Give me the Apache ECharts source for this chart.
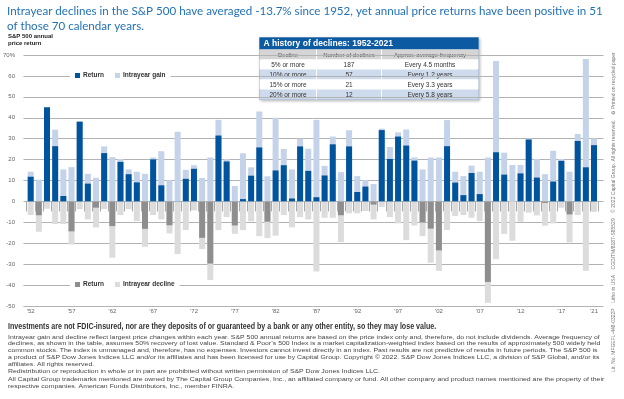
<!DOCTYPE html>
<html>
<head>
<meta charset="utf-8">
<script src="https://cdn.jsdelivr.net/npm/echarts/dist/echarts.min.js"></script>
<style>
html, body { margin: 0; padding: 0; background: #fff; }
#chart { width: 624px; height: 399px; }
</style>
</head>
<body>
<div id="chart"></div>
<script>
// years on the x axis
const years = [
  '1952', '1953', '1954', '1955', '1956', '1957', '1958', '1959', '1960', '1961',
  '1962', '1963', '1964', '1965', '1966', '1967', '1968', '1969', '1970', '1971',
  '1972', '1973', '1974', '1975', '1976', '1977', '1978', '1979', '1980', '1981',
  '1982', '1983', '1984', '1985', '1986', '1987', '1988', '1989', '1990', '1991',
  '1992', '1993', '1994', '1995', '1996', '1997', '1998', '1999', '2000', '2001',
  '2002', '2003', '2004', '2005', '2006', '2007', '2008', '2009', '2010', '2011',
  '2012', '2013', '2014', '2015', '2016', '2017', '2018', '2019', '2020', '2021'
]

// S&P 500 annual price return (%)
const returns = [
  11.8, -6.6, 45.0, 26.4, 2.6, -14.3, 38.1, 8.5, -3.0, 23.1,
  -11.8, 18.9, 13.0, 9.1, -13.1, 20.1, 7.7, -11.4, 0.1, 10.8,
  15.6, -17.4, -29.7, 31.5, 19.1, -11.5, 1.1, 12.3, 25.8, -9.7,
  14.8, 17.3, 1.4, 26.3, 14.6, 2.0, 12.4, 27.3, -6.6, 26.3,
  4.5, 7.1, -1.5, 34.1, 20.3, 31.0, 26.7, 19.5, -10.1, -13.0,
  -23.4, 26.4, 9.0, 3.0, 13.6, 3.5, -38.5, 23.5, 12.8, 0.0,
  13.4, 29.6, 11.4, -0.7, 9.5, 19.4, -6.2, 28.9, 16.3, 26.9
]

// largest intrayear gain (%)
const gains = [
  14.2, 10.4, 45.0, 34.3, 15.3, 16.4, 38.3, 13.2, 11.3, 26.3,
  21.2, 20.3, 15.3, 14.2, 13.2, 21.0, 24.0, 10.2, 33.3, 15.1,
  17.3, 11.2, 21.0, 39.0, 20.2, 7.4, 23.0, 16.3, 43.0, 12.0,
  40.0, 25.1, 15.3, 30.0, 25.2, 39.0, 17.0, 31.0, 14.0, 34.0,
  12.1, 10.2, 8.3, 34.8, 26.0, 33.0, 34.4, 21.0, 15.3, 21.0,
  21.0, 38.9, 14.2, 12.1, 17.1, 14.2, 21.0, 67.1, 23.3, 17.4,
  17.4, 30.1, 20.3, 13.0, 24.2, 20.3, 14.2, 32.2, 68.1, 30.1
]

// largest intrayear decline (%)
const declines = [
  -6.5, -14.5, -3.5, -10.8, -10.8, -20.6, -3.7, -8.6, -12.4, -3.7,
  -26.9, -6.5, -3.7, -9.4, -21.7, -6.5, -8.6, -15.3, -25.2, -13.7,
  -4.3, -22.8, -37.6, -13.7, -7.5, -15.5, -13.7, -9.5, -16.6, -17.5,
  -16.4, -6.5, -12.4, -7.5, -8.6, -33.5, -7.8, -7.8, -19.5, -5.7,
  -5.7, -4.6, -8.6, -2.6, -7.5, -10.5, -18.5, -11.5, -16.6, -29.3,
  -33.2, -13.7, -7.0, -6.5, -7.8, -9.4, -48.5, -27.6, -15.5, -18.8,
  -9.7, -5.4, -6.7, -11.6, -10.5, -3.0, -19.6, -6.5, -33.2, -5.0
]

// y tick values
const yTicks = [70, 60, 50, 40, 30, 20, 10, 0, -10, -20, -30, -40, -50]

// table: A history of declines
const tableHead = ['Decline', 'Number of declines', 'Approx. average frequency']
const tableRows = [
  ['5% or more', '187', 'Every 4.5 months'],
  ['10% or more', '57', 'Every 1.2 years'],
  ['15% or more', '21', 'Every 3.3 years'],
  ['20% or more', '12', 'Every 5.8 years']
]

const footLines = [
  'Intrayear gain and decline reflect largest price changes within each year. S&P 500 annual returns are based on the price index only and, therefore, do not include dividends. Average frequency of',
  'declines, as shown in the table, assumes 50% recovery of lost value. Standard & Poor\u2019s 500 Index is a market capitalization-weighted index based on the results of approximately 500 widely held',
  'common stocks. The index is unmanaged and, therefore, has no expenses. Investors cannot invest directly in an index. Past results are not predictive of results in future periods. The S&P 500 is',
  'a product of S&P Dow Jones Indices LLC and/or its affiliates and has been licensed for use by Capital Group. Copyright \u00a9 2022. S&P Dow Jones Indices LLC, a division of S&P Global, and/or its',
  'affiliates. All rights reserved.',
  'Redistribution or reproduction in whole or in part are prohibited without written permission of S&P Dow Jones Indices LLC.',
  'All Capital Group trademarks mentioned are owned by The Capital Group Companies, Inc., an affiliated company or fund. All other company and product names mentioned are the property of their',
  'respective companies. American Funds Distributors, Inc., member FINRA.'
]
const footY = [337, 343.8, 350.6, 357.4, 364.2, 371, 379.5, 386.3]

const retPos = returns.map(v => (v >= 0 ? v : '-'))
const retNeg = returns.map(v => (v < 0 ? v : '-'))

const C_BLUE = '#00549e'
const C_LBLUE = '#c4d3e9'
const C_GRAY = '#8e8e8e'
const C_LGRAY = '#dcdcdc'
const FONT = '"Liberation Sans", Arial, sans-serif'

const myChart = echarts.init(document.getElementById('chart'), null, { renderer: 'canvas' })

// 表格
const tbl = { type: 'group', x: 259.5, y: 37.5, z: 100, children: [] }
const W = 219
const colX = [0, 57, 122, W]
const colC = [28.5, 89.5, 170.5]
tbl.children.push({
  type: 'rect', shape: { x: 0, y: 0, width: W, height: 62 },
  style: { fill: '#fff', stroke: '#9aaec6', lineWidth: 1, shadowBlur: 3, shadowColor: 'rgba(0,0,0,0.25)', shadowOffsetX: 1, shadowOffsetY: 1 }
})
tbl.children.push({ type: 'rect', shape: { x: 0, y: 0, width: W, height: 12 }, style: { fill: '#0b5aa2' } })
tbl.children.push({
  type: 'text', x: 4, y: 6.5,
  style: { text: 'A history of declines: 1952-2021', font: 'bold 8.5px ' + FONT, fill: '#fff', textVerticalAlign: 'middle' }
})
tbl.children.push({ type: 'rect', shape: { x: 0, y: 12, width: W, height: 10 }, style: { fill: '#d5d5d5' } })
tableHead.forEach((t, i) => {
  tbl.children.push({
    type: 'text', x: colC[i], y: 17.5,
    style: { text: t, font: '6px ' + FONT, fill: '#555', textAlign: 'center', textVerticalAlign: 'middle' }
  })
})
tableRows.forEach((row, r) => {
  tbl.children.push({
    type: 'rect', shape: { x: 0, y: 22 + r * 10, width: W, height: 10 },
    style: { fill: r % 2 ? '#cedbec' : '#fff' }
  })
  row.forEach((t, i) => {
    tbl.children.push({
      type: 'text', x: colC[i], y: 27.5 + r * 10,
      style: { text: t, font: '6.5px ' + FONT, fill: '#333', textAlign: 'center', textVerticalAlign: 'middle' }
    })
  })
})
;[colX[1], colX[2]].forEach(x => {
  tbl.children.push({ type: 'line', shape: { x1: x, y1: 12, x2: x, y2: 62 }, style: { stroke: '#fff', lineWidth: 1 } })
})

const graphics = [
  tbl,
  {
    type: 'text', x: 8, y: 33,
    style: { text: 'S&P 500 annual\nprice return', font: 'bold 6px ' + FONT, fill: '#222', lineHeight: 7 }
  },
  {
    // 压窄的粗体声明
    type: 'text', x: 8, y: 327, scaleX: 0.866,
    style: {
      text: 'Investments are not FDIC-insured, nor are they deposits of or guaranteed by a bank or any other entity, so they may lose value.',
      font: 'bold 8.2px ' + FONT, fill: '#333', textVerticalAlign: 'middle'
    }
  },
  {
    type: 'text', x: 614, y: 372, rotation: Math.PI / 2,
    style: {
      text: 'Lit. No. MFGEFL-448-0322P    Litho in USA    CGD/TM/8187-S85529    \u00a9 2022 Capital Group. All rights reserved.    \u267b Printed on recycled paper',
      font: '5px ' + FONT, fill: '#777', textVerticalAlign: 'middle'
    }
  }
]
footLines.forEach((t, i) => {
  graphics.push({
    type: 'text', x: 8, y: footY[i], scaleX: 1.15,
    style: { text: t, font: '6px ' + FONT, fill: '#444', textVerticalAlign: 'middle' }
  })
})

const option = {
  backgroundColor: '#fff',
  animation: false,
  title: {
    text: 'Intrayear declines in the S&P 500 have averaged -13.7% since 1952, yet annual price returns have been positive in 51\nof those 70 calendar years.',
    left: 7,
    top: 4,
    padding: 0,
    textStyle: { fontSize: 11.6, fontWeight: 'normal', color: '#2372b6', lineHeight: 15, fontFamily: 'Lato' }
  },
  legend: [
    {
      data: ['Return+', 'Intrayear gain'],
      formatter: n => (n === 'Return+' ? 'Return' : n),
      left: 70, top: 70,
      backgroundColor: '#fff', padding: [2, 5],
      itemWidth: 5, itemHeight: 5, itemGap: 11, icon: 'rect',
      textStyle: { fontSize: 6.5, color: '#333', fontWeight: 'bold', fontFamily: FONT, padding: [0, 0, 0, -2] }
    },
    {
      data: ['Return-', 'Intrayear decline'],
      formatter: n => (n === 'Return-' ? 'Return' : n),
      left: 70, top: 279,
      backgroundColor: '#fff', padding: [2, 5],
      itemWidth: 5, itemHeight: 5, itemGap: 11, icon: 'rect',
      textStyle: { fontSize: 6.5, color: '#333', fontWeight: 'bold', fontFamily: FONT, padding: [0, 0, 0, -2] }
    }
  ],
  grid: [
    { left: 26.6, right: 25.9, top: 55, bottom: 93 }, // 柱子
    { left: 21.7, right: 20.5, top: 55, bottom: 93 } // 网格线
  ],
  xAxis: [
    {
      type: 'category',
      gridIndex: 0,
      data: years,
      axisLine: { show: true, lineStyle: { color: '#b0b0b0' } },
      axisTick: { show: true, interval: 0, length: 10, lineStyle: { color: '#a8a8a8' } },
      axisLabel: {
        interval: (i) => i % 5 === 0 || i === 69,
        formatter: v => '\u2019' + v.slice(2),
        fontSize: 6, color: '#666', margin: 2.5, fontFamily: FONT
      },
      splitLine: { show: false }
    },
    { type: 'value', gridIndex: 1, show: false, min: 0, max: 1 }
  ],
  yAxis: [
    { type: 'value', gridIndex: 0, min: -50, max: 70, interval: 10, show: false },
    {
      type: 'value', gridIndex: 1, min: -50, max: 70, interval: 10,
      axisLine: { show: false },
      axisTick: { show: false },
      axisLabel: {
        fontSize: 6, color: '#666', fontFamily: FONT, align: 'right', margin: 8.5,
        formatter: v => (yTicks.indexOf(v) === 0 ? v + '%' : String(v))
      },
      splitLine: { show: true, lineStyle: { color: '#b3b3b3', width: 1 } }
    }
  ],
  series: [
    { name: 'Intrayear gain', type: 'bar', data: gains, barWidth: 6, barGap: '-100%', itemStyle: { color: C_LBLUE } },
    { name: 'Intrayear decline', type: 'bar', data: declines, barWidth: 6, barGap: '-100%', itemStyle: { color: C_LGRAY } },
    { name: 'Return+', type: 'bar', data: retPos, barWidth: 6, barGap: '-100%', itemStyle: { color: C_BLUE } },
    { name: 'Return-', type: 'bar', data: retNeg, barWidth: 6, barGap: '-100%', itemStyle: { color: C_GRAY } }
  ],
  graphic: graphics
}

myChart.setOption(option)
</script>
</body>
</html>
